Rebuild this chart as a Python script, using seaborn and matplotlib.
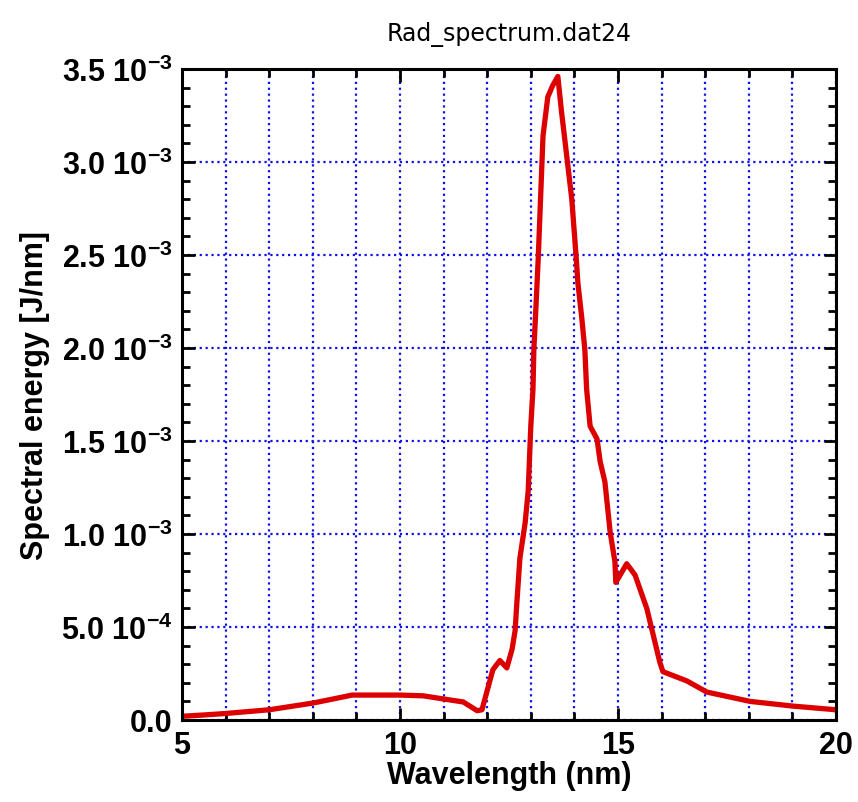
import numpy as np
import pandas as pd
import matplotlib
matplotlib.use("Agg")
import matplotlib.pyplot as plt
import seaborn as sns
from matplotlib.ticker import MultipleLocator, FixedLocator

# values (wavelength in nm, energy in 1e-3 J/nm)
wavelength = [5.0, 5.5, 6.0, 7.0, 8.0, 8.55, 8.9, 10.0, 10.53, 11.0, 11.45, 11.77, 11.88,
              12.13, 12.29, 12.45, 12.57, 12.64, 12.68, 12.75, 12.87, 12.94, 13.0, 13.05,
              13.07, 13.12, 13.17, 13.28, 13.39, 13.5, 13.62, 13.7, 13.83, 13.94, 14.04,
              14.08, 14.17, 14.24, 14.28, 14.36, 14.52, 14.59, 14.7, 14.82, 14.93, 14.95,
              15.05, 15.2, 15.39, 15.66, 15.96, 16.03, 16.58, 17.04, 18.03, 19.0, 20.0]
energy_e3 = [0.02, 0.027, 0.035, 0.055, 0.091, 0.117, 0.134, 0.134, 0.13, 0.113, 0.097, 0.05, 0.055,
             0.27, 0.32, 0.28, 0.38, 0.48, 0.63, 0.87, 1.06, 1.23, 1.58, 1.78,
             1.99, 2.23, 2.48, 3.14, 3.35, 3.41, 3.46, 3.28, 3.02, 2.8, 2.49,
             2.35, 2.16, 1.99, 1.78, 1.58, 1.51, 1.39, 1.28, 1.01, 0.85, 0.74,
             0.78, 0.84, 0.78, 0.6, 0.31, 0.26, 0.21, 0.15, 0.10, 0.075, 0.055]
y_ticks = [0.0, 0.5e-3, 1.0e-3, 1.5e-3, 2.0e-3, 2.5e-3, 3.0e-3, 3.5e-3]
y_ticklabels = ["0.0", "5.0 10$^{-4}$", "1.0 10$^{-3}$", "1.5 10$^{-3}$",
                "2.0 10$^{-3}$", "2.5 10$^{-3}$", "3.0 10$^{-3}$", "3.5 10$^{-3}$"]
x_ticks = [5, 10, 15, 20]

df = pd.DataFrame({"wl": wavelength, "e": np.array(energy_e3) * 1e-3})

sns.set_style("ticks")
plt.rcParams["font.family"] = ["Liberation Sans", "DejaVu Sans"]
plt.rcParams["mathtext.fontset"] = "custom"
plt.rcParams["mathtext.rm"] = "Liberation Sans:bold"
plt.rcParams["mathtext.it"] = "Liberation Sans:bold"
plt.rcParams["mathtext.bf"] = "Liberation Sans:bold"
plt.rcParams["text.color"] = "black"
plt.rcParams["axes.labelcolor"] = "black"
plt.rcParams["xtick.color"] = "black"
plt.rcParams["ytick.color"] = "black"

fig = plt.figure(figsize=(8.58, 8.03), dpi=100)
ax = fig.add_axes([182 / 858, 1 - 721 / 803, (836 - 182) / 858, (721 - 70) / 803])

sns.lineplot(data=df, x="wl", y="e", ax=ax, color="#dd0000", linewidth=3.8)

ax.set_xlim(5, 20)
ax.set_ylim(0, 3.5e-3)
ax.xaxis.set_major_locator(FixedLocator(x_ticks))
ax.xaxis.set_minor_locator(MultipleLocator(1))
ax.yaxis.set_major_locator(FixedLocator(y_ticks))
ax.yaxis.set_minor_locator(MultipleLocator(0.1e-3))
ax.set_xticklabels([str(t) for t in x_ticks])
ax.set_yticklabels(y_ticklabels)

ax.tick_params(which="both", direction="in", top=True, right=True, width=2,
               color="black", labelcolor="black")
ax.tick_params(which="major", length=9, labelsize=22, pad=7)
ax.tick_params(which="minor", length=6)
for lab in ax.get_xticklabels() + ax.get_yticklabels():
    lab.set_fontweight("bold")
for sp in ax.spines.values():
    sp.set_linewidth(2.2)
    sp.set_color("black")

ax.grid(True, which="both", axis="x", color="#1010ee", linestyle=":", linewidth=1.6)
ax.grid(True, which="major", axis="y", color="#1010ee", linestyle=":", linewidth=1.6)
ax.set_axisbelow(True)

ax.set_xlabel("Wavelength (nm)", fontsize=22, fontweight="bold", labelpad=0)
ax.set_ylabel("Spectral energy [J/nm]", fontsize=22, fontweight="bold", labelpad=8)
ax.set_title("Rad_spectrum.dat24", fontsize=17, pad=21, family=["DejaVu Sans"],
             color="black", fontweight="medium")

fig.savefig("out.png", dpi=100)
